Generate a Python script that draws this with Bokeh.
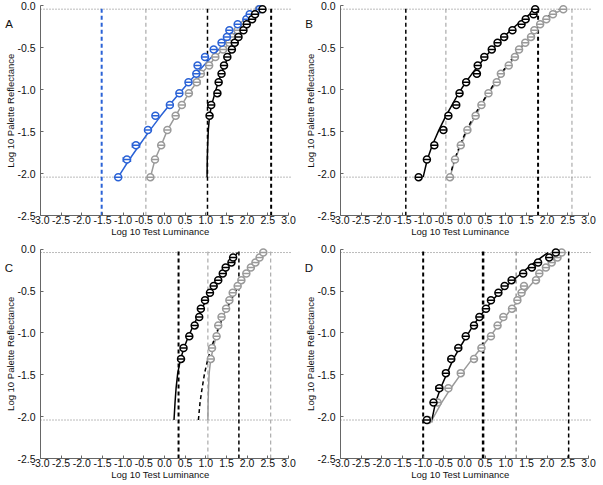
import math
from bokeh.plotting import figure
from bokeh.layouts import gridplot
from bokeh.models import (Label, FixedTicker, NumeralTickFormatter,
                          ColumnDataSource, Whisker, TeeHead)
from bokeh.embed import file_html
from bokeh.resources import INLINE

# ---------------- data ----------------
# log10 palette reflectance levels (y of every series)
REFL = [-2.04, -1.83, -1.66, -1.48, -1.31, -1.18, -1.04, -0.91, -0.81, -0.71,
        -0.61, -0.52, -0.44, -0.37, -0.29, -0.22, -0.16, -0.10, -0.04]
X_TICKS = [-3.0, -2.5, -2.0, -1.5, -1.0, -0.5, 0.0, 0.5, 1.0, 1.5, 2.0, 2.5, 3.0]
Y_TICKS = [-2.5, -2.0, -1.5, -1.0, -0.5, 0.0]
DOTTED_Y = [-0.04, -2.04]
DOTTED_X_END = 3.05
X_LABEL = "Log 10 Test Luminance"
Y_LABEL = "Log 10 Palette Reflectance"
PANELS = ["A", "B", "C", "D"]

# Panel A
A_BLUE_X = [-1.12, -0.91, -0.69, -0.40, -0.22, 0.13, 0.36, 0.58, 0.77, 0.80,
            0.98, 1.19, 1.38, 1.51, 1.57, 1.77, 1.98, 2.06, 2.30]
A_BLUE_ERR = [0, 0.09, 0.09, 0.05, 0, 0, 0, 0, 0, 0, 0, 0, 0, 0, 0, 0, 0, 0, 0]
A_GRAY_X = [-0.34, -0.23, -0.08, 0.07, 0.27, 0.42, 0.59, 0.78, 0.88, 1.08,
            1.23, 1.42, 1.57, 1.63, 1.77, 1.93, 2.00, 2.19, 2.28]
A_GRAY_ERR = [0, 0, 0, 0, 0, 0, 0, 0.08, 0, 0, 0, 0, 0, 0, 0, 0, 0, 0, 0]
A_BLACK_X = [1.09, 1.13, 1.28, 1.31, 1.38, 1.44, 1.52, 1.63, 1.70, 1.79,
             1.91, 1.99, 2.12, 2.19, 2.37]            # from REFL[4:]
A_BLUE_FIT = [-1.12, -0.85, -0.61, -0.35, -0.09, 0.12, 0.36, 0.59, 0.77, 0.95,
              1.14, 1.31, 1.47, 1.61, 1.77, 1.92, 2.04, 2.17, 2.30]
A_BLACK_FIT = [1.03, 1.035, 1.045, 1.06, 1.09, 1.14, 1.22, 1.30, 1.37, 1.45,
               1.54, 1.63, 1.71, 1.79, 1.89, 1.99, 2.08, 2.19, 2.37]
A_VLINES = [-1.52, -0.45, 1.04, 2.58]

# Panel B
B_BLACK_X = [-1.11, -0.91, -0.73, -0.51, -0.39, -0.20, -0.12, 0.04, 0.30, 0.32,
             0.48, 0.66, 0.80, 0.96, 1.16, 1.38, 1.48, 1.67, 1.71]
B_BLACK_ERR = [0, 0, 0.07, 0, 0, 0, 0, 0, 0, 0, 0, 0, 0, 0, 0, 0, 0, 0, 0]
B_GRAY_X = [-0.35, -0.23, -0.09, 0.07, 0.27, 0.41, 0.58, 0.78, 0.88, 1.07,
            1.22, 1.32, 1.47, 1.61, 1.69, 1.83, 1.98, 2.14, 2.39]
B_GRAY_ERR = [0, 0, 0, 0, 0, 0, 0, 0.06, 0, 0, 0, 0, 0, 0, 0, 0, 0, 0, 0]
B_BLACK_FIT = [-1.00, -0.90, -0.78, -0.62, -0.45, -0.30, -0.14, 0.03, 0.18, 0.34,
               0.50, 0.66, 0.81, 0.95, 1.12, 1.28, 1.43, 1.58, 1.76]
B_DASH_FIT = [-0.36, -0.24, -0.11, 0.05, 0.23, 0.39, 0.57, 0.74, 0.88, 1.03,
              1.18, 1.32, 1.45, 1.57, 1.71, 1.84, 1.96, 2.09, 2.30]
B_VLINES = [-1.42, -0.45, 1.78, 2.60]

# Panel C
C_BLACK_X = [0.40, 0.46, 0.60, 0.73, 0.84, 0.88, 0.98, 1.10, 1.19, 1.30,
             1.41, 1.48, 1.62, 1.66]                  # REFL[4:18]
C_GRAY_X = [1.12, 1.15, 1.26, 1.30, 1.38, 1.49, 1.57, 1.65, 1.77, 1.86,
            1.98, 2.09, 2.20, 2.30, 2.39]             # REFL[4:]
C_GRAY_ERR = [0, 0, 0.06, 0, 0.05, 0, 0, 0, 0, 0, 0, 0, 0, 0, 0]
C_BLACK_FIT = [0.23, 0.255, 0.28, 0.32, 0.39, 0.47, 0.58, 0.70, 0.80, 0.90,
               1.01, 1.11, 1.21, 1.30, 1.41, 1.50, 1.59, 1.68, 1.77]
C_DASH_FIT = [0.82, 0.86, 0.91, 0.97, 1.05, 1.13, 1.23, 1.33, 1.42, 1.51,
              1.61, 1.70, 1.79, 1.88, 1.98, 2.08, 2.17, 2.27, 2.38]
C_GRAY_FIT = [1.05, 1.055, 1.065, 1.08, 1.12, 1.18, 1.25, 1.33, 1.41, 1.50,
              1.60, 1.69, 1.78, 1.87, 1.97, 2.07, 2.17, 2.27, 2.38]
C_VLINES = [0.34, 1.05, 1.80, 2.57]

# Panel D
D_BLACK_X = [-0.91, -0.75, -0.61, -0.45, -0.32, -0.15, 0.03, 0.23, 0.36, 0.52,
             0.64, 0.82, 0.97, 1.14, 1.42, 1.63, 1.78, 2.05, 2.21]
D_BLACK_ERR = [0, 0, 0.08, 0, 0.07, 0.05, 0, 0, 0, 0, 0, 0, 0, 0, 0, 0, 0, 0, 0]
D_GRAY_X = [-0.88, -0.65, -0.39, -0.09, 0.23, 0.41, 0.64, 0.80, 0.94, 1.15,
            1.28, 1.38, 1.44, 1.73, 1.81, 1.97, 2.11, 2.25, 2.35]
D_GRAY_ERR = [0.10, 0, 0, 0, 0, 0, 0.05, 0.06, 0.07, 0, 0.07, 0.07, 0, 0, 0, 0, 0, 0, 0]
D_BLACK_FIT = [-0.79, -0.70, -0.58, -0.42, -0.27, -0.12, 0.05, 0.21, 0.36, 0.52,
               0.68, 0.84, 1.01, 1.18, 1.37, 1.54, 1.69, 1.85, 2.02]
D_GRAY_FIT = [-0.79, -0.55, -0.33, -0.07, 0.19, 0.40, 0.62, 0.82, 0.98, 1.14,
              1.30, 1.44, 1.58, 1.70, 1.84, 1.97, 2.09, 2.21, 2.34]
D_VLINES = [-1.00, 0.45, 1.25, 2.52]

# ---------------- styles / layout ----------------
BLUE = "#2a62d6"
GRAY = "#9a9a9a"
BLACK = "#000000"
AXIS = "#666666"
FONT = "Liberation Sans"
TXT = "#111111"
KX = 41.33       # px per x unit
KY = 83.9        # px per y unit


def make_fig(letter, width, height, pad_l, pad_r, pad_t, pad_b):
    x0, x1 = X_TICKS[0], X_TICKS[-1]
    y0, y1 = Y_TICKS[0], Y_TICKS[-1]
    p = figure(width=width, height=height,
               x_range=(x0 - pad_l / KX, x1 + pad_r / KX),
               y_range=(y0 - pad_b / KY, y1 + pad_t / KY),
               output_backend="svg", toolbar_location=None,
               min_border_left=0, min_border_right=0,
               min_border_top=0, min_border_bottom=0)
    p.outline_line_color = None
    p.grid.visible = False
    p.background_fill_color = "white"
    for ax, ticks in ((p.xaxis[0], X_TICKS), (p.yaxis[0], Y_TICKS)):
        ax.ticker = FixedTicker(ticks=ticks)
        ax.formatter = NumeralTickFormatter(format="0.0")
        ax.minor_tick_line_color = None
        ax.major_tick_in = 3
        ax.major_tick_out = 0
        ax.axis_line_color = AXIS
        ax.major_tick_line_color = AXIS
        ax.major_label_text_font = FONT
        ax.major_label_text_font_size = "10.5px"
        ax.major_label_text_color = TXT
    p.xaxis[0].major_label_standoff = 0
    p.yaxis[0].major_label_standoff = 5
    p.xaxis[0].bounds = (x0, x1)
    p.yaxis[0].bounds = (y0, y1)
    p.xaxis[0].fixed_location = y0
    p.yaxis[0].fixed_location = x0
    for yv in DOTTED_Y:
        p.segment(x0=x0, x1=DOTTED_X_END, y0=yv, y1=yv, line_color="#777777",
                  line_width=1, line_dash="1 2")
    # axis titles and panel letter
    p.add_layout(Label(x=-0.1, y=y0 - 16 / KY, text=X_LABEL, text_align="center",
                       text_baseline="middle", text_font=FONT,
                       text_font_size="9.5px", text_color=TXT))
    p.add_layout(Label(x=x0 - 30.5 / KX, y=-1.25, text=Y_LABEL, angle=math.pi / 2,
                       text_align="center", text_baseline="middle", text_font=FONT,
                       text_font_size="9.5px", text_color=TXT))
    p.add_layout(Label(x=x0 - 31.5 / KX, y=-0.22, text=letter, text_align="center",
                       text_baseline="middle", text_font=FONT,
                       text_font_size="11.5px", text_color=TXT))
    return p


def vlines(p, xs, styles):
    for xv, (col, w) in zip(xs, styles):
        p.segment(x0=xv, x1=xv, y0=Y_TICKS[0], y1=Y_TICKS[-1], line_color=col,
                  line_width=w, line_dash="4 3")


def curve(p, xs, ys, color, dash="solid", width=1.5):
    p.line(xs, ys, line_color=color, line_width=width, line_dash=dash)


def points(p, xs, ys, color, errs=None):
    if errs is not None:
        idx = [i for i, e in enumerate(errs) if e > 0]
        if idx:
            wsrc = ColumnDataSource(dict(
                y=[ys[i] for i in idx],
                lo=[xs[i] - errs[i] for i in idx],
                hi=[xs[i] + errs[i] for i in idx]))
            p.add_layout(Whisker(source=wsrc, base="y", lower="lo", upper="hi",
                                 dimension="width", line_color=color, line_width=1.2,
                                 lower_head=TeeHead(size=5, line_color=color, line_width=1.2),
                                 upper_head=TeeHead(size=5, line_color=color, line_width=1.2)))
    src = ColumnDataSource(dict(x=xs, y=ys))
    p.scatter("x", "y", source=src, marker="circle", size=7, fill_color="white",
              line_color=color, line_width=1.5)
    p.scatter("x", "y", source=src, marker="dash", size=7, line_color=color,
              line_width=1.5)


# Panel A
pa = make_fig(PANELS[0], 300, 243, 40, 12, 5.3, 27.7)
vlines(pa, A_VLINES, [(BLUE, 2), (GRAY, 1), (BLACK, 1.5), (BLACK, 2)])
curve(pa, A_GRAY_X, REFL, GRAY)
curve(pa, A_BLUE_FIT, REFL, BLUE)
curve(pa, A_BLACK_FIT, REFL, BLACK)
points(pa, A_GRAY_X, REFL, GRAY, A_GRAY_ERR)
points(pa, A_BLUE_X, REFL, BLUE, A_BLUE_ERR)
points(pa, A_BLACK_X, REFL[4:], BLACK)

# Panel B
pb = make_fig(PANELS[1], 298, 243, 40, 10, 5.3, 27.7)
vlines(pb, B_VLINES, [(BLACK, 1.5), (GRAY, 1), (BLACK, 2), (GRAY, 1)])
curve(pb, B_GRAY_X, REFL, GRAY)
curve(pb, B_DASH_FIT, REFL, BLACK, dash="4 3")
curve(pb, B_BLACK_FIT, REFL, BLACK)
points(pb, B_GRAY_X, REFL, GRAY, B_GRAY_ERR)
points(pb, B_BLACK_X, REFL, BLACK, B_BLACK_ERR)

# Panel C
pc = make_fig(PANELS[2], 300, 239, 40, 12, 5.7, 24.0)
vlines(pc, C_VLINES, [(BLACK, 2), (GRAY, 1), (BLACK, 1.5), (GRAY, 1)])
curve(pc, C_GRAY_FIT, REFL, GRAY)
curve(pc, C_DASH_FIT, REFL, BLACK, dash="4 3")
curve(pc, C_BLACK_FIT, REFL, BLACK)
points(pc, C_GRAY_X, REFL[4:], GRAY, C_GRAY_ERR)
points(pc, C_BLACK_X, REFL[4:18], BLACK)

# Panel D
pd_ = make_fig(PANELS[3], 298, 239, 40, 10, 5.7, 24.0)
vlines(pd_, D_VLINES, [(BLACK, 2), (BLACK, 2.5), (GRAY, 1.5), (BLACK, 1.5)])
curve(pd_, D_GRAY_FIT, REFL, GRAY)
curve(pd_, D_BLACK_FIT, REFL, BLACK)
points(pd_, D_GRAY_X, REFL, GRAY, D_GRAY_ERR)
points(pd_, D_BLACK_X, REFL, BLACK, D_BLACK_ERR)

grid = gridplot([[pa, pb], [pc, pd_]], toolbar_location=None)

open("out.html", "w").write(file_html(grid, INLINE))
